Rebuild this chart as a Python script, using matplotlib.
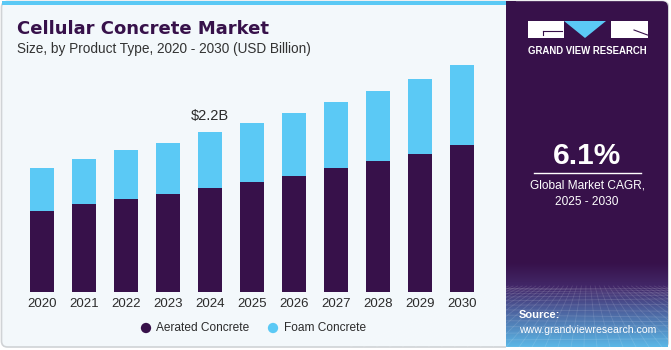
import matplotlib
matplotlib.use("Agg")
import matplotlib.pyplot as plt
import numpy as np
from matplotlib.patches import FancyBboxPatch, Rectangle, Polygon
from matplotlib.colors import LinearSegmentedColormap

years = ["2020", "2021", "2022", "2023", "2024", "2025", "2026", "2027", "2028", "2029", "2030"]
aerated = [1.11, 1.21, 1.28, 1.35, 1.43, 1.51, 1.60, 1.70, 1.80, 1.90, 2.02]
foam = [0.59, 0.62, 0.67, 0.70, 0.77, 0.81, 0.86, 0.91, 0.97, 1.03, 1.10]
series_names = ["Aerated Concrete", "Foam Concrete"]
annot_year = "2024"
annot_text = "$2.2B"
title = "Cellular Concrete Market"
subtitle = "Size, by Product Type, 2020 - 2030 (USD Billion)"
cagr = "6.1%"
cagr_text = "Global Market CAGR,\n2025 - 2030"

PURPLE = "#37114A"
CYAN = "#5BC9F5"
BG = "#F3F8FB"
TXT = "#2B2B2B"
FONT = ["Liberation Sans", "DejaVu Sans"]
plt.rcParams['font.family'] = FONT

W, H = 671, 350
fig = plt.figure(figsize=(W / 100, H / 100), dpi=100)
fig.patch.set_facecolor("white")

bg = fig.add_axes([0, 0, 1, 1])
bg.set_xlim(0, W)
bg.set_ylim(H, 0)
bg.axis("off")

# left panel
bg.add_patch(FancyBboxPatch((1.5, 1.5), W - 4, H - 4.5, boxstyle="round,pad=0,rounding_size=6",
                            facecolor=BG, edgecolor="#D0D3D6", linewidth=1.2, zorder=1))
bg.add_patch(Rectangle((2, 1.2), 506, 4.3, facecolor=CYAN, edgecolor="none", zorder=2))

# right panel
bg.add_patch(FancyBboxPatch((506, 1.2), 162, 346, boxstyle="round,pad=0,rounding_size=6",
                            facecolor=PURPLE, edgecolor="none", zorder=2))
bg.add_patch(Rectangle((506, 1.2), 10, 346, facecolor=PURPLE, edgecolor="none", zorder=2))
# gradient bottom
cmap = LinearSegmentedColormap.from_list("g", [(0, PURPLE), (0.3, "#43296A"), (0.55, "#4C5D9A"), (1, "#5BB7E6")])
grad = np.linspace(0, 1, 100).reshape(-1, 1)
bg.imshow(grad, extent=(506, 668, 262, 347), cmap=cmap, aspect="auto", zorder=3, origin="lower")
# perspective grid
for i in range(14):
    t = i / 13
    y = 288 + (347 - 288) * t ** 1.6
    bg.plot([506, 668], [y, y + 2 * np.sin(i)], color="white", alpha=0.13, lw=0.6, zorder=4)
for i in range(-12, 26):
    x0 = 506 + i * 13
    bg.plot([587 + (x0 - 587) * 0.35, x0], [286, 347], color="white", alpha=0.12, lw=0.6, zorder=4)
bg.add_patch(Rectangle((506, 347), 165, 3, facecolor="white", edgecolor="none", zorder=5))
bg.add_patch(Rectangle((668.5, 0), 3, 350, facecolor="white", edgecolor="none", zorder=5))

# logo
bg.add_patch(Rectangle((528, 21), 35.5, 16.5, facecolor="white", edgecolor="none", zorder=6))
bg.plot([543, 561.5], [31, 31], color=PURPLE, lw=0.8, zorder=7)
bg.plot([543, 543], [31, 35], color=PURPLE, lw=0.8, zorder=7)
bg.add_patch(Polygon([[564, 21], [606, 21], [585, 38]], closed=True, facecolor=CYAN, edgecolor="none", zorder=6))
bg.add_patch(Rectangle((611, 21), 36.5, 16.5, facecolor="white", edgecolor="none", zorder=6))
bg.plot([634, 647.5], [30, 35], color=PURPLE, lw=0.8, zorder=7)
bg.text(587.5, 50.5, "GRAND VIEW RESEARCH", color="white", fontsize=6.9, fontweight="bold",
        ha="center", va="center", zorder=7)

# CAGR
bg.text(587, 156, cagr, color="white", fontsize=21.5, fontweight="bold", ha="center", va="center", zorder=7)
bg.plot([534, 641], [173.3, 173.3], color="white", lw=1.0, zorder=7)
bg.text(587, 193.5, cagr_text, color="white", fontsize=8.6, ha="center", va="center",
        linespacing=1.45, zorder=7)
bg.text(519, 315.5, "Source:", color="white", fontsize=8.0, fontweight="bold", ha="left", va="center", zorder=7)
bg.text(519, 330, "www.grandviewresearch.com", color="white", fontsize=7.6, ha="left", va="center", zorder=7)

# titles
bg.text(17, 28.5, title, color=PURPLE, fontsize=13.0, fontweight="bold", ha="left", va="center",
        fontfamily="DejaVu Sans", zorder=7)
bg.text(17, 49, subtitle, color="#333333", fontsize=9.8, ha="left", va="center", zorder=7)

# bar chart
ax = fig.add_axes([21 / W, (H - 292) / H, 462 / W, 254 / H])
ax.set_facecolor("none")
x = np.arange(len(years))
ax.bar(x, aerated, width=0.57, color=PURPLE, edgecolor="none", zorder=3)
ax.bar(x, foam, bottom=aerated, width=0.57, color=CYAN, edgecolor="none", zorder=3)
ax.set_xlim(-0.5, len(years) - 0.5)
ax.set_ylim(0, 254 / 72.7)
ax.set_yticks([])
ax.set_xticks(x)
ax.set_xticklabels(years, fontsize=9.5, color=TXT)
ax.tick_params(axis="x", length=0, pad=4)
for s in ax.spines.values():
    s.set_visible(False)
i = years.index(annot_year)
tot = aerated[i] + foam[i]
ax.text(x[i], tot + 0.13, annot_text, ha="center", va="bottom", fontsize=10.5, color=TXT)

# legend
for cx, col, name in [(146, PURPLE, series_names[0]), (273, CYAN, series_names[1])]:
    bg.scatter([cx], [328], s=55, color=col, zorder=7, edgecolors="none")
    bg.text(cx + 10.5, 328, name, fontsize=8.6, color=TXT, ha="left", va="center", zorder=7)

fig.savefig("out.png", dpi=100, facecolor="white")
